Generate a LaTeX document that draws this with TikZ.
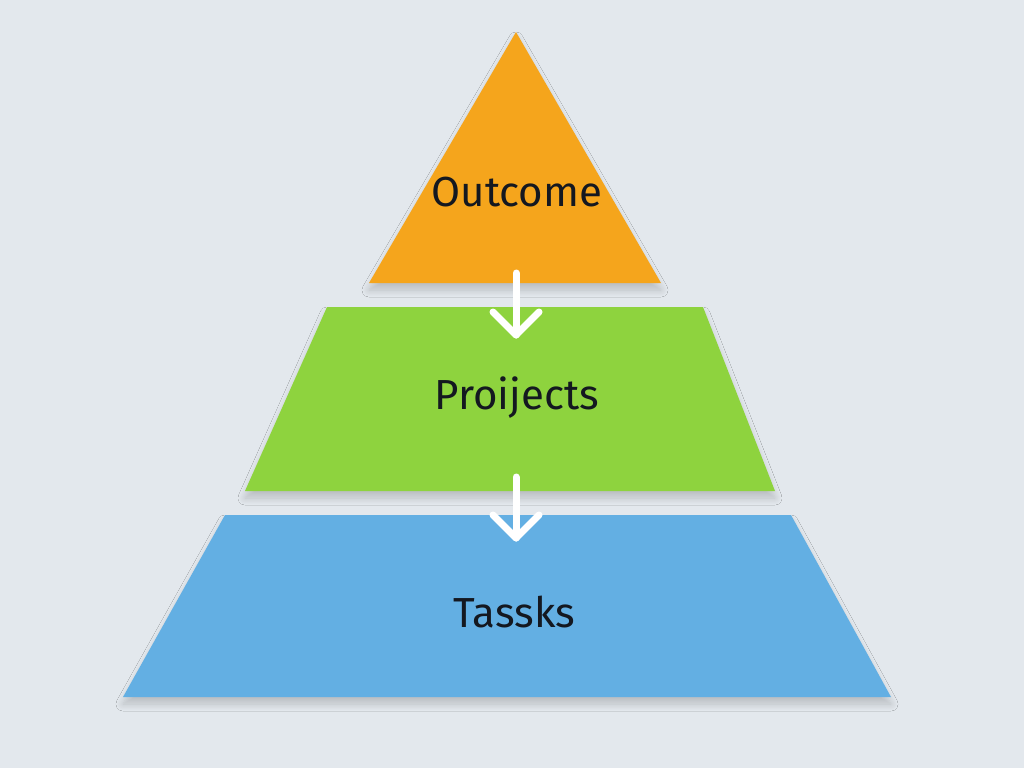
\documentclass[tikz,border=0pt]{standalone}
\usepackage{fontspec}
\setmainfont{Fira Sans}
\usetikzlibrary{shadows.blur}
\definecolor{bg}{HTML}{E3E8ED}
\definecolor{orangef}{HTML}{F5A51C}
\definecolor{greenf}{HTML}{8ED33E}
\definecolor{bluef}{HTML}{63AFE3}
\definecolor{txt}{HTML}{141820}
\tikzset{
  tier/.style={line join=round, blur shadow={shadow xshift=0pt, shadow yshift=-7pt, shadow blur radius=7pt, shadow blur steps=8, shadow opacity=18}},
  lab/.style={font=\fontsize{42}{48}\selectfont, text=txt},
  flow/.style={white, line width=7pt, line cap=round, line join=round}
}
\begin{document}
\begin{tikzpicture}[x=1pt,y=-1pt]
\fill[bg] (0,0) rectangle (1024,768);
\useasboundingbox (0,0) rectangle (1024,768);
% tiers
\fill[orangef, tier] (516,32) -- (661,283) -- (369,283) -- cycle;
\fill[greenf, tier] (327,307) -- (703,307) -- (775,491) -- (245,491) -- cycle;
\fill[bluef, tier] (225,515) -- (791,515) -- (891,697) -- (123,697) -- cycle;
% labels
\node[lab] (outcome) at (517,192) {Outcome};
\node[lab] (projects) at (517,398) {Proijects};
\node[lab] (tasks) at (514,612) {Tassks};
% arrows
\coordinate (a1s) at (516,273);
\coordinate (a1e) at (516,335);
\coordinate (a2s) at (516,477);
\coordinate (a2e) at (516,538);
\draw[flow] (a1s) -- (a1e);
\draw[flow] ([xshift=-23pt,yshift=23pt]a1e) -- (a1e) -- ([xshift=23pt,yshift=23pt]a1e);
\draw[flow] (a2s) -- (a2e);
\draw[flow] ([xshift=-23pt,yshift=23pt]a2e) -- (a2e) -- ([xshift=23pt,yshift=23pt]a2e);
\end{tikzpicture}
\end{document}
